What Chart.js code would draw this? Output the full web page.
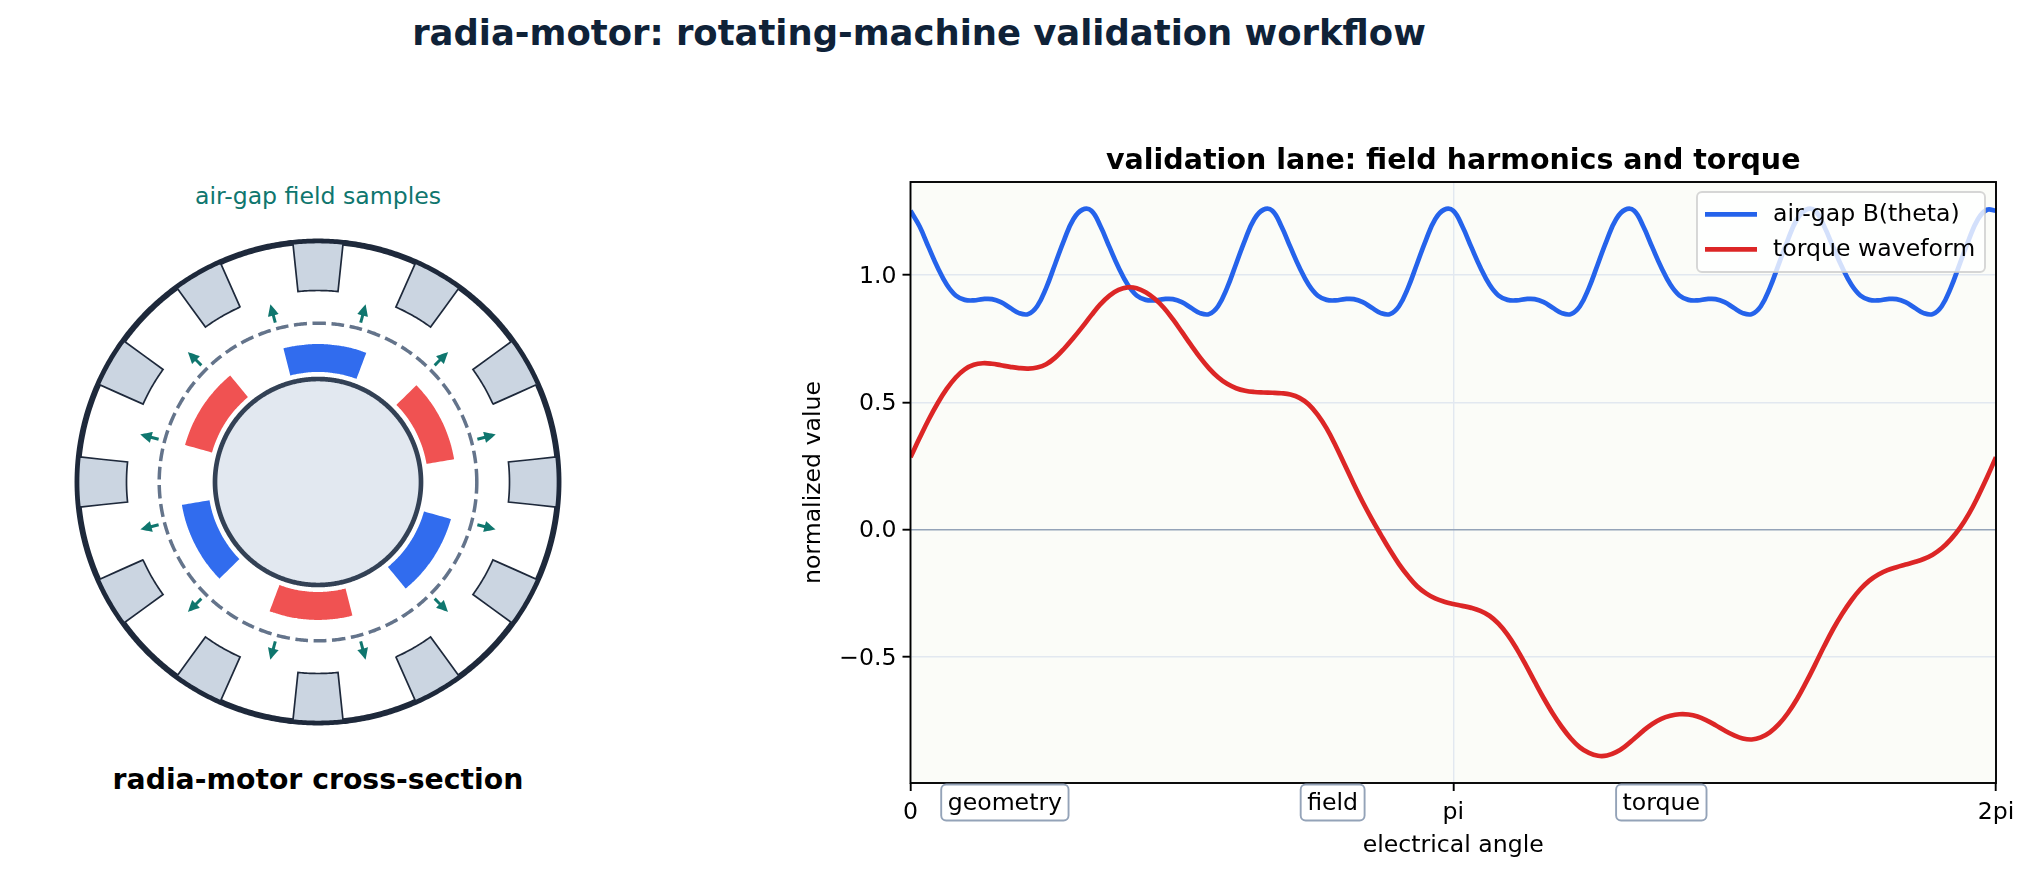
<!DOCTYPE html>
<html>
<head>
<meta charset="utf-8">
<title>radia-motor</title>
<script src="https://cdn.jsdelivr.net/npm/chart.js@4"></script>
<style>
    html, body { margin: 0; background: #fff; width: 2031px; height: 874px; overflow: hidden; }
    body { position: relative; font-family: "DejaVu Sans", sans-serif; }
    canvas { position: absolute; }
    .txt { position: absolute; white-space: nowrap; transform: translate(-50%, -50%); line-height: 1; }
    #suptitle { left: 919px; top: 33px; font-size: 35.4px; font-weight: bold; color: #0f2238; }
    #samples { left: 318px; top: 197px; font-size: 23.6px; color: #0f766e; }
    #section { left: 318px; top: 780px; font-size: 28.3px; font-weight: bold; color: #000; }
    #motorWrap { position: absolute; left: 0; top: 200px; width: 640px; height: 570px; }
    #laneWrap { position: absolute; left: 780px; top: 130px; width: 1251px; height: 744px; }
</style>
</head>
<body>
<div class="txt" id="suptitle">radia-motor: rotating-machine validation workflow</div>
<div class="txt" id="samples">air-gap field samples</div>
<div class="txt" id="section">radia-motor cross-section</div>
<div id="motorWrap"><canvas id="motor" width="640" height="570"></canvas></div>
<div id="laneWrap"><canvas id="lane" width="1251" height="744"></canvas></div>

<script>
// electrical angle in degrees, 0 to 360
const angles = [
    0, 3, 6, 9, 12, 15, 18, 21, 24, 27,
    30, 33, 36, 39, 42, 45, 48, 51, 54, 57,
    60, 63, 66, 69, 72, 75, 78, 81, 84, 87,
    90, 93, 96, 99, 102, 105, 108, 111, 114, 117,
    120, 123, 126, 129, 132, 135, 138, 141, 144, 147,
    150, 153, 156, 159, 162, 165, 168, 171, 174, 177,
    180, 183, 186, 189, 192, 195, 198, 201, 204, 207,
    210, 213, 216, 219, 222, 225, 228, 231, 234, 237,
    240, 243, 246, 249, 252, 255, 258, 261, 264, 267,
    270, 273, 276, 279, 282, 285, 288, 291, 294, 297,
    300, 303, 306, 309, 312, 315, 318, 321, 324, 327,
    330, 333, 336, 339, 342, 345, 348, 351, 354, 357,
    360
];
const airGapB = [
    1.253, 1.192, 1.11, 1.03, 0.963, 0.92, 0.903, 0.901, 0.906, 0.906,
    0.894, 0.872, 0.851, 0.847, 0.878, 0.95, 1.045, 1.14, 1.22, 1.257,
    1.253, 1.192, 1.11, 1.03, 0.963, 0.92, 0.903, 0.901, 0.906, 0.906,
    0.894, 0.872, 0.851, 0.847, 0.878, 0.95, 1.045, 1.14, 1.22, 1.257,
    1.253, 1.192, 1.11, 1.03, 0.963, 0.92, 0.903, 0.901, 0.906, 0.906,
    0.894, 0.872, 0.851, 0.847, 0.878, 0.95, 1.045, 1.14, 1.22, 1.257,
    1.253, 1.192, 1.11, 1.03, 0.963, 0.92, 0.903, 0.901, 0.906, 0.906,
    0.894, 0.872, 0.851, 0.847, 0.878, 0.95, 1.045, 1.14, 1.22, 1.257,
    1.253, 1.192, 1.11, 1.03, 0.963, 0.92, 0.903, 0.901, 0.906, 0.906,
    0.894, 0.872, 0.851, 0.847, 0.878, 0.95, 1.045, 1.14, 1.22, 1.257,
    1.253, 1.192, 1.11, 1.03, 0.963, 0.92, 0.903, 0.901, 0.906, 0.906,
    0.894, 0.872, 0.851, 0.847, 0.878, 0.95, 1.045, 1.14, 1.22, 1.257,
    1.253
];
const torque = [
    0.285, 0.36, 0.432, 0.497, 0.553, 0.598, 0.63, 0.648, 0.654, 0.652,
    0.646, 0.64, 0.635, 0.633, 0.637, 0.65, 0.676, 0.712, 0.753, 0.797,
    0.843, 0.886, 0.92, 0.942, 0.952, 0.949, 0.933, 0.907, 0.872, 0.827,
    0.777, 0.726, 0.677, 0.634, 0.599, 0.573, 0.556, 0.546, 0.541, 0.539,
    0.538, 0.536, 0.531, 0.518, 0.493, 0.452, 0.398, 0.33, 0.255, 0.18,
    0.108, 0.042, -0.02, -0.08, -0.135, -0.182, -0.222, -0.25, -0.27, -0.283,
    -0.292, -0.299, -0.307, -0.319, -0.338, -0.369, -0.412, -0.467, -0.53, -0.597,
    -0.662, -0.722, -0.775, -0.82, -0.855, -0.877, -0.888, -0.887, -0.874, -0.851,
    -0.821, -0.79, -0.763, -0.743, -0.731, -0.725, -0.726, -0.734, -0.749, -0.768,
    -0.789, -0.807, -0.82, -0.824, -0.816, -0.796, -0.764, -0.72, -0.665, -0.6,
    -0.53, -0.458, -0.39, -0.33, -0.278, -0.234, -0.2, -0.176, -0.159, -0.147,
    -0.137, -0.127, -0.115, -0.098, -0.073, -0.038, 0.006, 0.062, 0.13, 0.205,
    0.285
];
const xTicks = [0, 180, 360];
const xTickLabels = ["0", "pi", "2pi"];
const yTicks = [-0.5, 0, 0.5, 1];
const yTickLabels = ["\u22120.5", "0.0", "0.5", "1.0"];
const stageLabels = ["geometry", "field", "torque"];
const stageAngles = [31.3, 140, 249];

// cross-section parts, angles in degrees counter-clockwise from +x
const slotAngles = [0, 30, 60, 90, 120, 150, 180, 210, 240, 270, 300, 330];
const magnetAngles = [27, 87, 147, 207, 267, 327];
const magnetColors = ["#f05252", "#316cee", "#f05252", "#316cee", "#f05252", "#316cee"];
const arrowAngles = [15, 45, 75, 105, 135, 165, 195, 225, 255, 285, 315, 345];

const FONT = '"DejaVu Sans", sans-serif';
const TICK_SIZE = 23.6;

function polar(r, deg) {
    const a = deg * Math.PI / 180;
    return { x: r * Math.cos(a), y: r * Math.sin(a) };
}

function arc(r, from, to) {
    const pts = [];
    const n = Math.max(2, Math.ceil(Math.abs(to - from)));
    for (let i = 0; i <= n; i++) {
        pts.push(polar(r, from + (to - from) * i / n));
    }
    return pts;
}

function sector(rIn, rOut, mid, halfWidth) {
    const pts = arc(rOut, mid - halfWidth, mid + halfWidth).concat(arc(rIn, mid + halfWidth, mid - halfWidth));
    pts.push(pts[0]);
    return pts;
}

function shape(points, fillColor, lineColor, lineWidth, dash) {
    return {
        data: points,
        showLine: true,
        fill: fillColor ? 'shape' : false,
        backgroundColor: fillColor || 'transparent',
        borderColor: lineColor || 'transparent',
        borderWidth: lineWidth || 0,
        borderDash: dash || [],
        pointRadius: 0,
        pointHitRadius: 0,
        // tiny tension keeps Chart.js off its fast path, which merges points sharing an x pixel
        tension: 0.001,
        clip: false
    };
}

// painter's order, reversed below because Chart.js draws the first dataset last
const motorSets = [];
motorSets.push(shape(arc(240.5, 0, 362), null, '#1e293b', 5.9));
slotAngles.forEach(a => motorSets.push(shape(sector(191.5, 239.5, a, 6), '#cbd5e1', '#1e293b', 1.7)));
motorSets.push(shape(arc(158.8, 0, 360), null, '#64748b', 3.5, [13, 5.6]));
magnetAngles.forEach((a, i) => motorSets.push(shape(sector(110, 138, a, 17.5), magnetColors[i])));
motorSets.push(shape(arc(103, 0, 362), '#e2e8f0', '#334155', 4.7));
arrowAngles.forEach(a => {
    motorSets.push(shape([polar(165, a), polar(175, a)], null, '#0f766e', 3));
    const tip = polar(184, a);
    const base = polar(172.5, a);
    const nx = -Math.sin(a * Math.PI / 180) * 5.5;
    const ny = Math.cos(a * Math.PI / 180) * 5.5;
    motorSets.push(shape([tip, { x: base.x + nx, y: base.y + ny }, { x: base.x - nx, y: base.y - ny }, tip], '#0f766e'));
});

new Chart(document.getElementById('motor'), {
    type: 'scatter',
    data: { datasets: motorSets.reverse() },
    options: {
        responsive: false,
        animation: false,
        events: [],
        layout: { padding: 0, autoPadding: false },
        plugins: { legend: { display: false }, tooltip: { enabled: false } },
        scales: {
            x: { type: 'linear', display: false, min: -318, max: 322 },
            y: { type: 'linear', display: false, min: -288, max: 282 }
        }
    }
});

// plot background and the four spines, matplotlib style
const framePlugin = {
    id: 'frame',
    beforeDraw(chart) {
        const a = chart.chartArea;
        chart.ctx.save();
        chart.ctx.fillStyle = '#fbfcf8';
        chart.ctx.fillRect(a.left, a.top, a.right - a.left, a.bottom - a.top);
        chart.ctx.restore();
    },
    afterDraw(chart) {
        const a = chart.chartArea;
        const ctx = chart.ctx;
        ctx.save();
        ctx.strokeStyle = '#000';
        ctx.lineWidth = 1.9;
        ctx.strokeRect(a.left, a.top, a.right - a.left, a.bottom - a.top);
        ctx.restore();
    }
};

// legend sits inside the plot with a see-through box, so it is drawn here
const legendPlugin = {
    id: 'insideLegend',
    afterDraw(chart) {
        const ctx = chart.ctx;
        ctx.save();
        ctx.beginPath();
        ctx.roundRect(917, 62, 288, 80, 5);
        ctx.fillStyle = 'rgba(255,255,255,0.8)';
        ctx.fill();
        ctx.lineWidth = 1.9;
        ctx.strokeStyle = 'rgba(204,204,204,0.8)';
        ctx.stroke();
        ctx.font = TICK_SIZE + 'px ' + FONT;
        ctx.textBaseline = 'middle';
        chart.data.datasets.forEach((ds, i) => {
            const y = 84.3 + i * 35;
            ctx.strokeStyle = ds.borderColor;
            ctx.lineWidth = 4.7;
            ctx.beginPath();
            ctx.moveTo(925, y);
            ctx.lineTo(977, y);
            ctx.stroke();
            ctx.fillStyle = '#000';
            ctx.fillText(ds.label, 993, y + 1);
        });
        ctx.restore();
    }
};

// boxed workflow stages under the axis
const stagePlugin = {
    id: 'stages',
    afterDraw(chart) {
        const ctx = chart.ctx;
        const xScale = chart.scales.x;
        ctx.save();
        ctx.font = TICK_SIZE + 'px ' + FONT;
        ctx.textAlign = 'center';
        ctx.textBaseline = 'middle';
        stageLabels.forEach((label, i) => {
            const cx = xScale.getPixelForValue(stageAngles[i]);
            const w = ctx.measureText(label).width + 13;
            ctx.beginPath();
            ctx.roundRect(cx - w / 2, 654.5, w, 36, 5);
            ctx.fillStyle = '#fff';
            ctx.fill();
            ctx.lineWidth = 1.9;
            ctx.strokeStyle = '#94a3b8';
            ctx.stroke();
            ctx.fillStyle = '#000';
            ctx.fillText(label, cx, 674);
        });
        ctx.restore();
    }
};

new Chart(document.getElementById('lane'), {
    type: 'line',
    data: {
        datasets: [
            {
                label: 'air-gap B(theta)',
                data: angles.map((a, i) => ({ x: a, y: airGapB[i] })),
                borderColor: '#2563eb',
                borderWidth: 4.7,
                pointRadius: 0,
                tension: 0.4,
                clip: 0,
                order: 2
            },
            {
                label: 'torque waveform',
                data: angles.map((a, i) => ({ x: a, y: torque[i] })),
                borderColor: '#dc2626',
                borderWidth: 4.7,
                pointRadius: 0,
                tension: 0.4,
                clip: 0,
                order: 1
            }
        ]
    },
    options: {
        responsive: false,
        animation: false,
        events: [],
        layout: { padding: { left: 16, right: 35, top: 0, bottom: 10 }, autoPadding: false },
        plugins: {
            legend: { display: false },
            tooltip: { enabled: false },
            title: {
                display: true,
                fullSize: false,
                text: 'validation lane: field harmonics and torque',
                color: '#000',
                font: { family: FONT, size: 28.5, weight: 'bold' },
                padding: { top: 14, bottom: 3.8 }
            }
        },
        scales: {
            x: {
                type: 'linear',
                min: 0,
                max: 360,
                afterBuildTicks: s => { s.ticks = xTicks.map(v => ({ value: v })); },
                afterFit: s => { s.height = 81; },
                ticks: {
                    autoSkip: false,
                    maxRotation: 0,
                    color: '#000',
                    padding: 8,
                    font: { family: FONT, size: TICK_SIZE },
                    callback: v => xTickLabels[xTicks.indexOf(v)]
                },
                grid: { color: '#e2e8f0', lineWidth: 1.4, tickColor: '#000', tickLength: 8, tickWidth: 1.9 },
                border: { display: false },
                title: {
                    display: true,
                    text: 'electrical angle',
                    color: '#000',
                    padding: { top: 1, bottom: 4 },
                    font: { family: FONT, size: TICK_SIZE }
                }
            },
            y: {
                type: 'linear',
                min: -0.995,
                max: 1.366,
                afterBuildTicks: s => { s.ticks = yTicks.map(v => ({ value: v })); },
                afterFit: s => { s.width = 114.5; },
                ticks: {
                    color: '#000',
                    padding: 6,
                    labelOffset: 1.5,
                    font: { family: FONT, size: TICK_SIZE },
                    callback: v => yTickLabels[yTicks.indexOf(v)]
                },
                grid: {
                    color: c => (c.tick && c.tick.value === 0 ? '#94a3b8' : '#e2e8f0'),
                    lineWidth: 1.4,
                    tickColor: '#000',
                    tickLength: 8,
                    tickWidth: 1.9
                },
                border: { display: false },
                title: {
                    display: true,
                    text: 'normalized value',
                    color: '#000',
                    padding: { top: 4, bottom: 4 },
                    font: { family: FONT, size: TICK_SIZE }
                }
            }
        }
    },
    plugins: [framePlugin, legendPlugin, stagePlugin]
});
</script>
</body>
</html>
